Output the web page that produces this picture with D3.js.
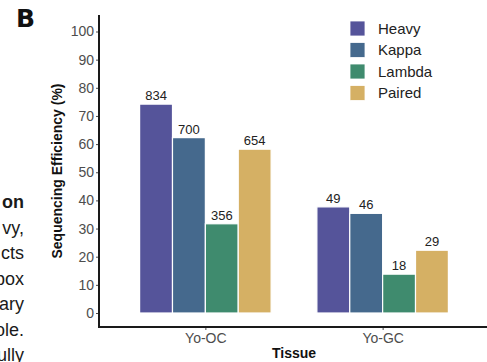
<!DOCTYPE html>
<html>
<head>
<meta charset="utf-8">
<script src="https://cdn.jsdelivr.net/npm/d3@7/dist/d3.min.js"></script>
<style>
  html, body { margin: 0; padding: 0; background: #fff; }
  svg { display: block; font-family: "Liberation Sans", Arial, sans-serif; }
</style>
</head>
<body>
<svg id="chart" width="487" height="362"></svg>
<script>
// Tissues on the x axis and the chain types drawn within each tissue
const tissues = ["Yo-OC", "Yo-GC"];
const chains = ["Heavy", "Kappa", "Lambda", "Paired"];

// Sequencing efficiency (%) per chain, one value per tissue
const heavy  = [74.2, 37.7];
const kappa  = [62.3, 35.4];
const lambda = [31.7, 13.8];
const paired = [58.2, 22.3];

// Number of sequences recovered, printed above each bar
const heavyN  = [834, 49];
const kappaN  = [700, 46];
const lambdaN = [356, 18];
const pairedN = [654, 29];

const yTicks = [0, 10, 20, 30, 40, 50, 60, 70, 80, 90, 100];
const chainColors = ["#55549a", "#45698d", "#3f8b6e", "#d5b064"];

// Side text from the neighbouring column of the figure page
const sideLines = ["on", "vy,", "cts", "box", "ary", "ole.", "ully"];

const seriesValues = { Heavy: heavy, Kappa: kappa, Lambda: lambda, Paired: paired };
const seriesCounts = { Heavy: heavyN, Kappa: kappaN, Lambda: lambdaN, Paired: pairedN };

const rows = [];
tissues.forEach((t, i) => {
  chains.forEach(c => {
    rows.push({ tissue: t, chain: c, value: seriesValues[c][i], n: seriesCounts[c][i] });
  });
});

const svg = d3.select("#chart");

const left = 99, right = 489, bottomAxis = 327, topAxis = 15;

const x0 = d3.scalePoint().domain(tissues).range([left, right]).padding(0.6);
const x1 = d3.scaleBand().domain(chains).range([-65.75, 65.75]).padding(0);
const y = d3.scaleLinear().domain([0, 100]).range([313, 31.5]);
const color = d3.scaleOrdinal().domain(chains).range(chainColors);

// Panel label
svg.append("text")
  .attr("x", 16).attr("y", 27)
  .attr("font-family", "DejaVu Sans, sans-serif")
  .attr("font-weight", "bold")
  .attr("font-size", 25)
  .attr("fill", "#111")
  .text("B");

// Side paragraph fragments
svg.append("g")
  .selectAll("text")
  .data(sideLines)
  .join("text")
  .attr("x", 24)
  .attr("y", (d, i) => 208 + i * 25.5)
  .attr("text-anchor", "end")
  .attr("font-size", 18)
  .attr("font-weight", (d, i) => i === 0 ? "bold" : "normal")
  .attr("fill", "#1a1a1a")
  .text(d => d);

// Bars
svg.append("g")
  .selectAll("rect")
  .data(rows)
  .join("rect")
  .attr("x", d => x0(d.tissue) + x1(d.chain))
  .attr("y", d => y(d.value))
  .attr("width", x1.bandwidth())
  .attr("height", d => y(0) - y(d.value))
  .attr("fill", d => color(d.chain))
  .attr("stroke", "#fff")
  .attr("stroke-width", 1.2);

// Counts above bars
svg.append("g")
  .selectAll("text")
  .data(rows)
  .join("text")
  .attr("x", d => x0(d.tissue) + x1(d.chain) + x1.bandwidth() / 2)
  .attr("y", d => y(d.value) - 4)
  .attr("text-anchor", "middle")
  .attr("font-size", 13)
  .attr("fill", "#222")
  .text(d => d.n);

// Y axis
const yAxis = svg.append("g")
  .attr("transform", `translate(${left},0)`)
  .call(d3.axisLeft(y).tickValues(yTicks).tickSize(3).tickPadding(2));
yAxis.select(".domain").remove();
yAxis.selectAll(".tick line").attr("stroke", "#4d4d4d");
yAxis.selectAll(".tick text")
  .attr("fill", "#4d4d4d")
  .attr("font-size", 14)
  .attr("font-family", "Liberation Sans, Arial, sans-serif");

// X axis
const xAxis = svg.append("g")
  .attr("transform", `translate(0,${bottomAxis})`)
  .call(d3.axisBottom(x0).tickSize(3).tickPadding(3));
xAxis.select(".domain").remove();
xAxis.selectAll(".tick line").attr("stroke", "#4d4d4d");
xAxis.selectAll(".tick text")
  .attr("fill", "#4d4d4d")
  .attr("font-size", 14)
  .attr("font-family", "Liberation Sans, Arial, sans-serif");

// Axis lines
svg.append("line")
  .attr("x1", left).attr("x2", left)
  .attr("y1", topAxis).attr("y2", bottomAxis + 1)
  .attr("stroke", "#1a1a1a").attr("stroke-width", 2);
svg.append("line")
  .attr("x1", left - 1).attr("x2", 487)
  .attr("y1", bottomAxis).attr("y2", bottomAxis)
  .attr("stroke", "#1a1a1a").attr("stroke-width", 2);

// Axis titles
svg.append("text")
  .attr("transform", `translate(62,${(topAxis + bottomAxis) / 2}) rotate(-90)`)
  .attr("text-anchor", "middle")
  .attr("font-size", 14)
  .attr("font-weight", "bold")
  .attr("fill", "#111")
  .text("Sequencing Efficiency (%)");

svg.append("text")
  .attr("x", (left + right) / 2)
  .attr("y", 358)
  .attr("text-anchor", "middle")
  .attr("font-size", 14)
  .attr("font-weight", "bold")
  .attr("fill", "#111")
  .text("Tissue");

// Legend
const legend = svg.append("g")
  .selectAll("g")
  .data(chains)
  .join("g")
  .attr("transform", (d, i) => `translate(350,${21 + i * 21.5})`);
legend.append("rect")
  .attr("width", 15).attr("height", 15)
  .attr("fill", d => color(d))
  .attr("stroke", "#fff").attr("stroke-width", 0.8);
legend.append("text")
  .attr("x", 28).attr("y", 7.5)
  .attr("dy", "0.35em")
  .attr("font-size", 15)
  .attr("fill", "#222")
  .text(d => d);
</script>
</body>
</html>
